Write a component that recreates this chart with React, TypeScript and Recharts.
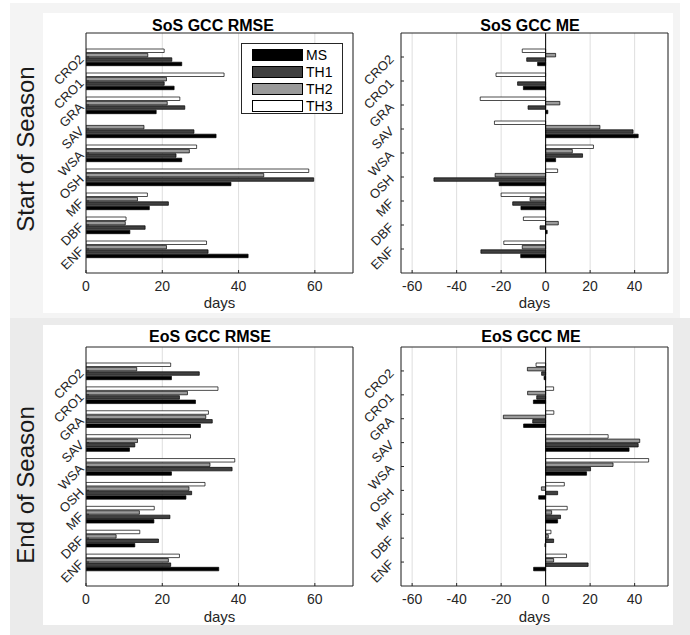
import React from "react";
import { Bar, BarChart, CartesianGrid, Legend, ReferenceLine, XAxis, YAxis } from "recharts";

// categories top to bottom (MATLAB draws ENF at y=1, CRO2 at y=9)
const categories = ["CRO2", "CRO1", "GRA", "SAV", "WSA", "OSH", "MF", "DBF", "ENF"];

const sosRmseMS = [25.1, 23.1, 18.4, 34.1, 25.1, 38.0, 16.6, 11.5, 42.5];
const sosRmseTH1 = [22.5, 20.5, 25.9, 28.3, 23.6, 59.7, 21.6, 15.5, 32.0];
const sosRmseTH2 = [16.2, 21.1, 21.3, 15.2, 27.1, 46.6, 13.5, 10.3, 21.1];
const sosRmseTH3 = [20.5, 36.2, 24.6, null, 29.0, 58.4, 16.1, 10.5, 31.6];

const sosMeMS = [-3.6, -10.0, 1.0, 41.6, 4.5, -20.9, -11.1, 0.7, -11.2];
const sosMeTH1 = [-8.5, -12.6, -7.9, 39.3, 16.6, -50.2, -14.8, -2.5, -29.1];
const sosMeTH2 = [4.5, 0, 6.4, 24.4, 12.0, -22.7, -7.0, 5.7, -10.5];
const sosMeTH3 = [-10.5, -22.3, -29.4, -23.0, 21.5, 5.4, -20.0, -10.0, -18.8];

const eosRmseMS = [22.4, 28.7, 30.0, 11.4, 22.4, 26.2, 17.8, 12.8, 34.8];
const eosRmseTH1 = [29.7, 24.5, 33.1, 12.8, 38.3, 27.7, 22.0, 19.0, 22.2];
const eosRmseTH2 = [13.3, 26.6, 31.4, 13.5, 32.5, 27.0, 14.0, 7.9, 21.6];
const eosRmseTH3 = [22.2, 34.6, 32.1, 27.4, 39.0, 31.2, 17.9, 14.1, 24.5];

const eosMeMS = [-0.7, -5.5, -9.9, 37.5, 18.4, -3.1, 5.4, -0.3, -5.4];
const eosMeTH1 = [-1.8, -4.0, -5.8, 41.6, 20.2, 5.4, 6.7, 3.6, 19.1];
const eosMeTH2 = [-8.2, -8.1, -19.0, 42.3, 30.3, -1.9, 2.7, 1.2, 3.6];
const eosMeTH3 = [-4.3, 3.6, 3.7, 28.1, 46.3, 8.4, 9.7, 2.4, 9.4];

const rmseTicks = [0, 20, 40, 60];
const meTicks = [-60, -40, -20, 0, 20, 40];

// legend order
const legendItems = [
  { key: "MS", fill: "#000000" },
  { key: "TH1", fill: "#404040" },
  { key: "TH2", fill: "#9a9a9a" },
  { key: "TH3", fill: "#ffffff" },
];

const AXIS = "#262626";

const makeRows = (ms: any[], th1: any[], th2: any[], th3: any[]) =>
  categories.map((cat, i) => ({ cat, MS: ms[i], TH1: th1[i], TH2: th2[i], TH3: th3[i] }));

const CategoryTick = (props: any) => {
  const { x, y, payload } = props;
  return (
    <text
      x={x}
      y={y}
      transform={`rotate(-45 ${x} ${y})`}
      textAnchor="end"
      dominantBaseline="central"
      fontSize={13}
      fill={AXIS}
    >
      {payload.value}
    </text>
  );
};

const LegendBox = () => (
  <div
    style={{
      boxSizing: "border-box",
      width: 102,
      height: 71,
      border: `1px solid ${AXIS}`,
      background: "#fff",
      padding: "2px 0 0 10px",
      overflow: "hidden",
    }}
  >
    {legendItems.map((it) => (
      <div key={it.key} style={{ display: "flex", alignItems: "center", height: 17 }}>
        <div
          style={{
            boxSizing: "border-box",
            width: 51,
            height: 12,
            background: it.fill,
            border: "1px solid #000",
          }}
        />
        <span style={{ marginLeft: 3, fontSize: 14, lineHeight: "14px", color: "#000" }}>{it.key}</span>
      </div>
    ))}
  </div>
);

type PanelProps = {
  data: any[];
  domain: [number, number];
  ticks: number[];
  left: number;
  top: number;
  width: number;
  axisWidth: number;
  marginTop: number;
  marginRight: number;
  xAxisHeight: number;
  labelOffset: number;
  catMargin: number;
  zeroLine?: boolean;
  legend?: boolean;
};

const Panel = (p: PanelProps) => (
  <div style={{ position: "absolute", left: p.left, top: p.top }}>
    <BarChart
      width={p.width}
      height={300}
      data={p.data}
      layout="vertical"
      margin={{ top: p.marginTop, right: p.marginRight, left: 0, bottom: 0 }}
      barSize={3.5}
      barGap={0.9}
    >
      <CartesianGrid horizontal={false} stroke="#dedede" />
      <XAxis
        type="number"
        domain={p.domain}
        ticks={p.ticks}
        allowDataOverflow
        height={p.xAxisHeight}
        stroke={AXIS}
        tickSize={-3}
        tickMargin={11}
        tick={{ fontSize: 14, fill: AXIS }}
        label={{ value: "days", position: "insideBottom", offset: p.labelOffset, fontSize: 15, fill: AXIS }}
      />
      <XAxis
        xAxisId="t"
        type="number"
        orientation="top"
        mirror
        domain={p.domain}
        ticks={p.ticks}
        allowDataOverflow
        height={10}
        stroke={AXIS}
        tickSize={3}
        tick={false}
      />
      <YAxis
        type="category"
        dataKey="cat"
        width={p.axisWidth}
        interval={0}
        padding={{ top: 12, bottom: 12 }}
        stroke={AXIS}
        tickSize={-3}
        tickMargin={p.catMargin}
        tick={<CategoryTick />}
      />
      <YAxis
        yAxisId="r"
        type="category"
        dataKey="cat"
        orientation="right"
        mirror
        width={10}
        interval={0}
        padding={{ top: 12, bottom: 12 }}
        stroke={AXIS}
        tickSize={3}
        tick={false}
      />
      {[...legendItems].reverse().map((s) => (
        <Bar
          key={s.key}
          dataKey={s.key}
          fill={s.fill}
          stroke="#000"
          strokeWidth={0.7}
          isAnimationActive={false}
        />
      ))}
      {p.zeroLine && <ReferenceLine x={0} stroke="#000" strokeWidth={1} />}
      {p.legend && (
        <Legend
          layout="vertical"
          align="center"
          verticalAlign="middle"
          wrapperStyle={{ left: 198, top: 30, width: 102, height: 71, overflow: "visible" }}
          content={() => <LegendBox />}
        />
      )}
    </BarChart>
  </div>
);

const titles = [
  { text: "SoS GCC RMSE", x: 213, y: 25 },
  { text: "SoS GCC ME", x: 530, y: 25 },
  { text: "EoS GCC RMSE", x: 210, y: 336 },
  { text: "EoS GCC ME", x: 531, y: 336 },
];

export default function App() {
  return (
    <div
      style={{
        position: "absolute",
        left: 0,
        top: 0,
        width: 690,
        height: 635,
        background: "#ffffff",
        fontFamily: "'Liberation Sans', Arial, sans-serif",
        overflow: "hidden",
      }}
    >
      <div style={{ position: "absolute", left: 10, top: 3, width: 670, height: 315, background: "#f4f4f4" }} />
      <div style={{ position: "absolute", left: 10, top: 318, width: 680, height: 317, background: "#ebebeb" }} />
      <div style={{ position: "absolute", left: 43, top: 13, width: 630, height: 300, background: "#ffffff" }} />
      <div style={{ position: "absolute", left: 43, top: 325, width: 630, height: 300, background: "#ffffff" }} />

      <Panel
        data={makeRows(sosRmseMS, sosRmseTH1, sosRmseTH2, sosRmseTH3)}
        domain={[0, 70]}
        ticks={rmseTicks}
        left={43}
        top={13}
        width={320}
        axisWidth={43}
        marginTop={20}
        marginRight={10}
        xAxisHeight={40}
        labelOffset={5}
        catMargin={7.5}
        legend
      />
      <Panel
        data={makeRows(sosMeMS, sosMeTH1, sosMeTH2, sosMeTH3)}
        domain={[-65, 55]}
        ticks={meTicks}
        left={355}
        top={13}
        width={325}
        axisWidth={46}
        marginTop={20}
        marginRight={12}
        xAxisHeight={40}
        labelOffset={5}
        catMargin={12.5}
        zeroLine
      />
      <Panel
        data={makeRows(eosRmseMS, eosRmseTH1, eosRmseTH2, eosRmseTH3)}
        domain={[0, 70]}
        ticks={rmseTicks}
        left={43}
        top={325}
        width={320}
        axisWidth={43}
        marginTop={22}
        marginRight={10}
        xAxisHeight={39}
        labelOffset={3}
        catMargin={7.5}
      />
      <Panel
        data={makeRows(eosMeMS, eosMeTH1, eosMeTH2, eosMeTH3)}
        domain={[-65, 55]}
        ticks={meTicks}
        left={355}
        top={325}
        width={325}
        axisWidth={46}
        marginTop={22}
        marginRight={12}
        xAxisHeight={39}
        labelOffset={3}
        catMargin={12.5}
        zeroLine
      />

      <svg
        width={690}
        height={635}
        style={{ position: "absolute", left: 0, top: 0, pointerEvents: "none" }}
      >
        {titles.map((t) => (
          <text
            key={t.text}
            x={t.x}
            y={t.y}
            textAnchor="middle"
            dominantBaseline="central"
            fontSize={16}
            fontWeight="bold"
            fill="#000"
          >
            {t.text}
          </text>
        ))}
        <text
          x={25}
          y={149}
          transform="rotate(-90 25 149)"
          textAnchor="middle"
          dominantBaseline="central"
          fontSize={24}
          fill="#1a1a1a"
        >
          Start of Season
        </text>
        <text
          x={25}
          y={485}
          transform="rotate(-90 25 485)"
          textAnchor="middle"
          dominantBaseline="central"
          fontSize={24}
          fill="#1a1a1a"
        >
          End of Season
        </text>
      </svg>
    </div>
  );
}
